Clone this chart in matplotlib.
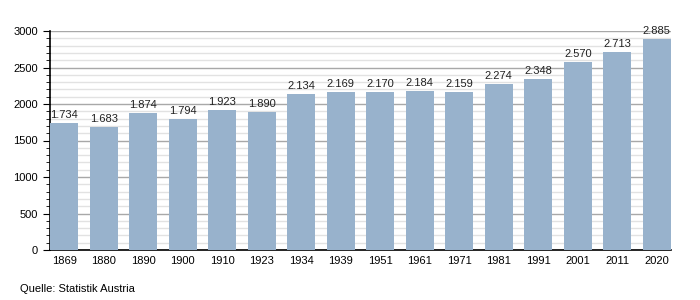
import matplotlib.pyplot as plt
from matplotlib.ticker import MultipleLocator

plt.rcParams['font.family'] = ['Liberation Sans', 'DejaVu Sans']

years = ['1869', '1880', '1890', '1900', '1910', '1923', '1934', '1939',
         '1951', '1961', '1971', '1981', '1991', '2001', '2011', '2020']
population = [1734, 1683, 1874, 1794, 1923, 1890, 2134, 2169,
              2170, 2184, 2159, 2274, 2348, 2570, 2713, 2885]
labels = ['1.734', '1.683', '1.874', '1.794', '1.923', '1.890', '2.134', '2.169',
          '2.170', '2.184', '2.159', '2.274', '2.348', '2.570', '2.713', '2.885']

fig = plt.figure(figsize=(7, 3), dpi=100)
ax = fig.add_axes([50 / 700, 50 / 300, 621 / 700, 219 / 300])

x = range(len(years))
bars = ax.bar(x, population, width=0.72, color='#98b2cc', zorder=3)
for b, lab in zip(bars, labels):
    ax.text(b.get_x() + b.get_width() / 2, b.get_height() + 40, lab,
            ha='center', va='bottom', fontsize=8, color='#222222')

ax.set_xlim(-0.36, len(years) - 1 + 0.36)
ax.set_ylim(0, 3000)
ax.set_xticks(list(x))
ax.set_xticklabels(years)
ax.yaxis.set_major_locator(MultipleLocator(500))
ax.yaxis.set_minor_locator(MultipleLocator(100))
ax.grid(which='major', axis='y', color='#a8a8a8', linewidth=1, zorder=1)
ax.grid(which='minor', axis='y', color='#e2e2e2', linewidth=1, zorder=0)
ax.tick_params(axis='x', length=0, labelsize=8, pad=4)
ax.tick_params(axis='y', which='major', length=5, labelsize=8, direction='out')
ax.tick_params(axis='y', which='minor', length=3)
for s in ['top', 'right']:
    ax.spines[s].set_visible(False)
ax.spines['left'].set_linewidth(1.2)
ax.spines['bottom'].set_linewidth(1.2)
ax.set_axisbelow(True)

fig.text(20 / 700, 1 - 289 / 300, 'Quelle: Statistik Austria', fontsize=8,
         va='center', ha='left')

fig.savefig('out.png', dpi=100)
